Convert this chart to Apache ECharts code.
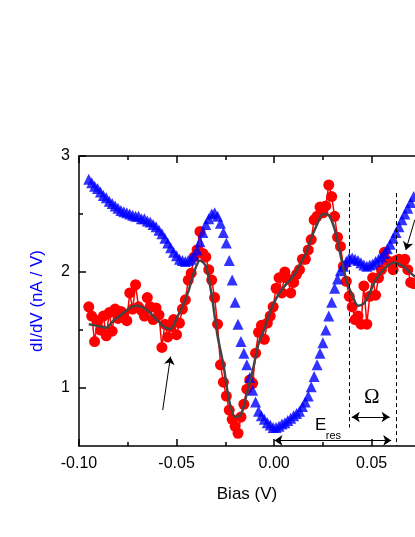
<!DOCTYPE html>
<html><head><meta charset="utf-8">
<script src="https://cdn.jsdelivr.net/npm/echarts@6/dist/echarts.min.js"></script>
<style>html,body{margin:0;padding:0;background:#fff}#c{width:415px;height:537px}</style>
</head><body><div id="c"></div>
<script>
// Bias grid of the measured curves (V)
const biasStart = -0.095, biasStep = 0.0015;
// blue triangles: dI/dV (nA/V)
const blueDIdV = [
 2.80,2.77,2.74,2.72,2.69,2.66,2.64,2.61,2.59,2.57,
 2.55,2.53,2.52,2.51,2.50,2.49,2.48,2.48,2.46,2.46,
 2.44,2.43,2.41,2.39,2.36,2.33,2.29,2.25,2.21,2.17,
 2.14,2.11,2.10,2.09,2.10,2.11,2.14,2.19,2.26,2.34,
 2.41,2.46,2.50,2.51,2.48,2.42,2.34,2.25,2.10,1.93,
 1.74,1.55,1.40,1.30,1.20,1.09,0.98,0.88,0.80,0.76,
 0.73,0.70,0.68,0.66,0.66,0.67,0.69,0.70,0.72,0.74,
 0.76,0.78,0.80,0.84,0.88,0.93,1.01,1.10,1.20,1.30,
 1.39,1.50,1.62,1.74,1.86,1.94,2.01,2.05,2.09,2.12,
 2.12,2.11,2.10,2.08,2.06,2.05,2.06,2.07,2.09,2.11,
 2.13,2.16,2.20,2.24,2.29,2.34,2.39,2.45,2.50,2.55,
 2.60,2.65
];
// red circles: dI/dV (nA/V)
const redDIdV = [
 1.70,1.62,1.40,1.58,1.50,1.62,1.45,1.65,1.49,1.68,
 1.60,1.66,1.64,1.58,1.82,1.68,1.89,1.70,1.67,1.62,
 1.78,1.70,1.59,1.69,1.63,1.35,1.55,1.44,1.53,1.59,
 1.46,1.56,1.68,1.76,1.93,1.99,2.13,2.19,2.35,2.16,
 2.13,2.02,1.93,1.78,1.55,1.20,1.05,0.93,0.81,0.73,
 0.67,0.61,0.75,0.86,0.99,1.07,1.04,1.30,1.48,1.54,
 1.42,1.56,1.62,1.70,1.86,1.95,1.82,2.00,1.94,1.82,
 1.91,1.98,2.02,2.11,2.11,2.19,2.28,2.45,2.48,2.56,
 2.51,2.57,2.75,2.65,2.48,2.30,2.22,2.05,1.92,1.79,
 1.70,1.59,1.62,1.55,1.88,1.55,1.79,1.95,1.80,1.95,
 2.02,2.17,2.10,2.08,2.02,2.10,2.11,2.08,2.11,2.02,
 1.91,1.90
];
// grey fit curve
const fitStart = -0.095, fitStep = 0.003;
const fitDIdV = [
 1.55,1.54,1.53,1.52,1.57,1.61,1.65,1.69,1.71,1.70,
 1.67,1.62,1.57,1.52,1.51,1.60,1.70,1.83,2.00,2.10,
 2.05,1.80,1.45,1.20,0.89,0.75,0.77,0.95,1.15,1.38,
 1.51,1.66,1.77,1.85,1.91,1.97,2.06,2.15,2.29,2.41,
 2.50,2.49,2.37,2.15,1.93,1.80,1.71,1.73,1.82,1.93,
 2.00,2.05,2.08,2.07,2.04,1.99,1.95
];
const xMajorTicks = [-0.10, -0.05, 0.00, 0.05];
const xMinorTicks = [-0.075, -0.025, 0.025];
const yMajorTicks = [1, 2, 3];
const yMinorTicks = [1.5, 2.5];
// annotation positions (data units)
const eresLine = 0.0387, omegaLine = 0.0624;

const X_MIN = -0.1, X_MAX = 0.0722, Y_MIN = 0.5, Y_MAX = 3;
const FONT = '"Liberation Sans", Arial, sans-serif';

const toPairs = (arr, s, d) => arr.map((v, i) => [+(s + i * d).toFixed(5), v]);

const chart = echarts.init(document.getElementById('c'), null, {renderer: 'canvas'});

function xAx(pos, major, showLabel, showLine) {
  return {
    type: 'value', position: pos, min: X_MIN, max: X_MAX,
    axisLine: {show: showLine, onZero: false, lineStyle: {color: '#000', width: 1.5}},
    splitLine: {show: false},
    axisTick: {show: true, inside: true, length: major ? 7 : 4,
      customValues: major ? xMajorTicks : xMinorTicks, lineStyle: {color: '#000', width: 1.5}},
    axisLabel: {show: showLabel, customValues: xMajorTicks, margin: 10,
      fontFamily: FONT, fontSize: 16, color: '#000',
      formatter: v => v.toFixed(2)},
    name: showLabel ? 'Bias (V)' : '', nameLocation: 'middle', nameGap: 40,
    nameTextStyle: {fontFamily: FONT, fontSize: 17, color: '#000'}
  };
}
function yAx(major) {
  return {
    type: 'value', position: 'left', min: Y_MIN, max: Y_MAX,
    axisLine: {show: major, onZero: false, lineStyle: {color: '#000', width: 1.5}},
    splitLine: {show: false},
    axisTick: {show: true, inside: true, length: major ? 7 : 4,
      customValues: major ? yMajorTicks : yMinorTicks, lineStyle: {color: '#000', width: 1.5}},
    axisLabel: {show: major, customValues: yMajorTicks, margin: 9,
      fontFamily: FONT, fontSize: 16, color: '#000'},
    name: major ? 'dI/dV (nA / V)' : '', nameLocation: 'middle', nameGap: 33,
    nameRotate: 90,
    nameTextStyle: {fontFamily: FONT, fontSize: 17, color: '#0000ff'}
  };
}

const lineItem = (x1, y1, x2, y2, s1, s2) => [
  {coord: [x1, y1], symbol: s1},
  {coord: [x2, y2], symbol: s2}
];

chart.setOption({
  animation: false,
  backgroundColor: '#fff',
  grid: {left: 79, right: 0, top: 156, bottom: 91, containLabel: false},
  xAxis: [xAx('bottom', true, true, true), xAx('bottom', false, false, false),
          xAx('top', true, false, true), xAx('top', false, false, false)],
  yAxis: [yAx(true), yAx(false)],
  series: [
    {
      name: 'red', type: 'line', data: toPairs(redDIdV, biasStart, biasStep),
      symbol: 'circle', symbolSize: 11, showAllSymbol: true,
      itemStyle: {color: '#ff0000'},
      lineStyle: {color: '#ff0000', width: 1.5}, z: 2
    },
    {
      name: 'blue', type: 'scatter', data: toPairs(blueDIdV, biasStart, biasStep),
      symbol: 'triangle', symbolSize: 11,
      itemStyle: {color: '#0000ff'}, z: 3
    },
    {
      name: 'fit', type: 'line', data: toPairs(fitDIdV, fitStart, fitStep),
      symbol: 'none', smooth: 0.3,
      lineStyle: {color: '#444', width: 2.5}, z: 4,
      markLine: {
        silent: true, animation: false,
        label: {show: false},
        symbolSize: 8,
        lineStyle: {color: '#000', width: 1, type: 'solid'},
        data: [
          lineItem(0.0002, 0.548, 0.0600, 0.548, 'arrow', 'arrow'),
          lineItem(0.0398, 0.75, 0.0592, 0.75, 'arrow', 'arrow'),
          lineItem(-0.0571, 0.81, -0.0531, 1.27, 'none', 'arrow'),
          lineItem(0.0721, 2.45, 0.0675, 2.19, 'none', 'arrow')
        ]
      }
    },
    {
      name: 'dash', type: 'line', data: [], xAxisIndex: 0, yAxisIndex: 0,
      markLine: {
        silent: true, animation: false, label: {show: false}, symbol: 'none',
        lineStyle: {color: '#000', width: 1, type: [4, 3]},
        data: [
          lineItem(eresLine, 2.68, eresLine, 0.66, 'none', 'none'),
          lineItem(omegaLine, 2.68, omegaLine, 0.5, 'none', 'none')
        ]
      }
    }
  ]
});

const p = (x, y) => chart.convertToPixel({xAxisIndex: 0, yAxisIndex: 0}, [x, y]);
const om = p(0.050, 0.92), er = p(0.0239, 0.675);
chart.setOption({
  graphic: [
    {type: 'text', x: om[0], y: om[1], style: {text: 'Ω', font: '21px "Liberation Serif", "Times New Roman", serif',
      fill: '#000', align: 'center', verticalAlign: 'middle'}},
    {type: 'text', x: er[0], y: er[1], style: {text: 'E', font: '17px ' + FONT,
      fill: '#000', align: 'center', verticalAlign: 'middle'}},
    {type: 'text', x: er[0] + 5, y: er[1] + 10, style: {text: 'res', font: '11px ' + FONT,
      fill: '#000', align: 'left', verticalAlign: 'middle'}}
  ]
});
</script></body></html>
